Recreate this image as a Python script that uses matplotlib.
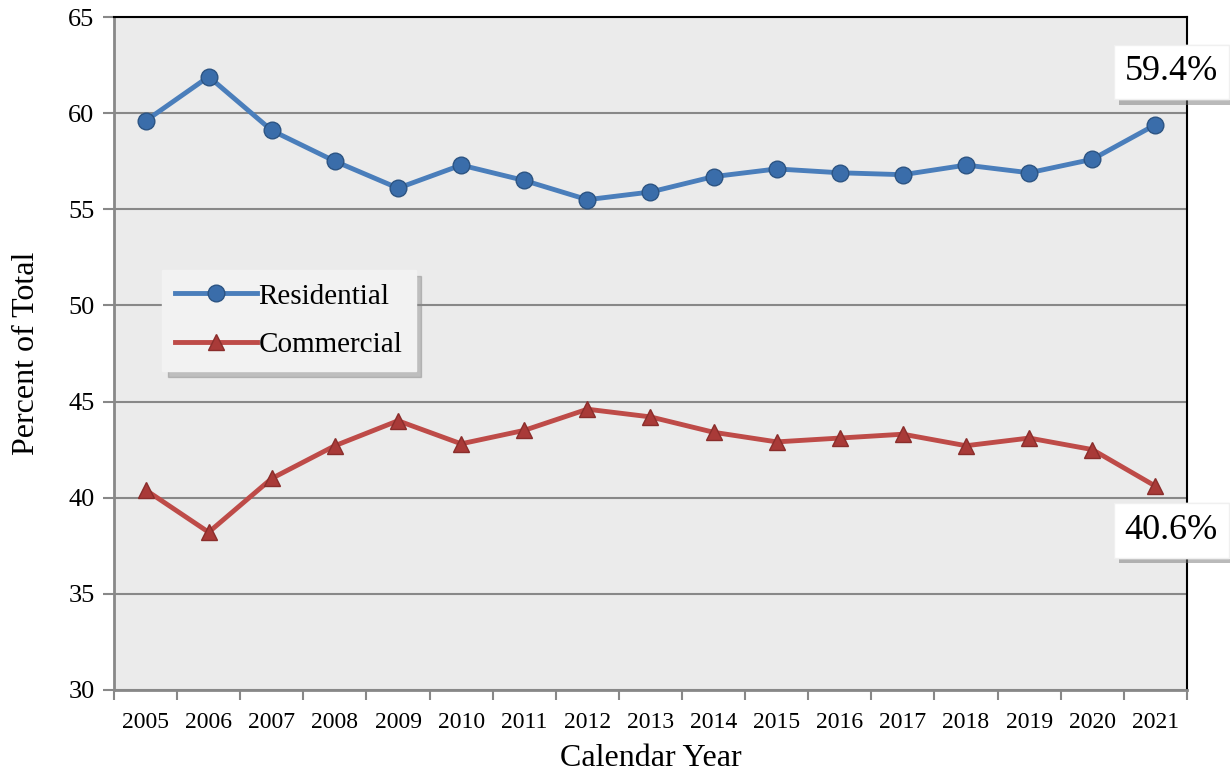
import matplotlib.pyplot as plt
import matplotlib.patheffects as pe
import numpy as np

years = ['2005', '2006', '2007', '2008', '2009', '2010', '2011', '2012', '2013',
         '2014', '2015', '2016', '2017', '2018', '2019', '2020', '2021']
residential = [59.6, 61.9, 59.1, 57.5, 56.1, 57.3, 56.5, 55.5, 55.9,
               56.7, 57.1, 56.9, 56.8, 57.3, 56.9, 57.6, 59.4]
commercial = [40.4, 38.2, 41.0, 42.7, 44.0, 42.8, 43.5, 44.6, 44.2,
              43.4, 42.9, 43.1, 43.3, 42.7, 43.1, 42.5, 40.6]
yticks = [30, 35, 40, 45, 50, 55, 60, 65]

plt.rcParams['font.family'] = ['Liberation Serif', 'DejaVu Serif']

fig = plt.figure(figsize=(12.3, 7.76), dpi=100)
ax = fig.add_axes([0.0927, 0.111, 0.8723, 0.867])
ax.set_facecolor('#EBEBEB')

x = np.arange(len(years))
blue = '#4A7EBB'
red = '#BE4B48'
ax.plot(x, residential, color=blue, lw=3.5, marker='o', ms=12,
        mfc='#3A6DAA', mec='#2C5483', mew=1, label='Residential', zorder=3)
ax.plot(x, commercial, color=red, lw=3.5, marker='^', ms=12,
        mfc='#A93A38', mec='#8A2D2B', mew=1, label='Commercial', zorder=3)

ax.set_xlim(-0.5, len(years) - 0.5)
ax.set_ylim(30, 65)
ax.set_yticks(yticks)
ax.yaxis.grid(True, color='#888888', lw=1.5)
ax.set_axisbelow(True)

ax.set_xticks(x)
ax.set_xticklabels(years, fontsize=17)
ax.set_xticks(np.arange(-0.5, len(years)), minor=True)
ax.tick_params(axis='x', which='major', length=0, pad=16)
ax.tick_params(axis='x', which='minor', length=7, width=1.5, color='#888888')
ax.tick_params(axis='y', length=8, width=1.5, color='#888888', labelsize=19, pad=6)

for s in ['left', 'bottom']:
    ax.spines[s].set_color('#888888')
    ax.spines[s].set_linewidth(2)
for s in ['top', 'right']:
    ax.spines[s].set_color('black')
    ax.spines[s].set_linewidth(1.5)

ax.set_xlabel('Calendar Year', fontsize=23, labelpad=8)
ax.set_ylabel('Percent of Total', fontsize=23, labelpad=20)

leg = ax.legend(loc='upper left', bbox_to_anchor=(0.045, 0.624), fontsize=21,
                borderaxespad=0, frameon=True, fancybox=False, facecolor='#F2F2F2',
                framealpha=1, edgecolor='#F2F2F2', borderpad=0.45, handlelength=2.8,
                handletextpad=0.05, labelspacing=0.75,
                shadow={'ox': 4, 'oy': -4, 'color': '#888888', 'alpha': 0.45})

for val, yy in [(residential[-1], 62.15), (commercial[-1], 38.3)]:
    t = ax.text(16.25, yy, f'{val:.1f}%', fontsize=26, ha='center', va='center',
                clip_on=False, zorder=5,
                bbox=dict(boxstyle='square,pad=0.3', fc='white', ec='#F0F0F0'))
    t.get_bbox_patch().set_path_effects([
        pe.withSimplePatchShadow(offset=(4, -4), shadow_rgbFace='#777777', alpha=0.5),
        pe.Normal()])

fig.savefig('out.png', dpi=100)
